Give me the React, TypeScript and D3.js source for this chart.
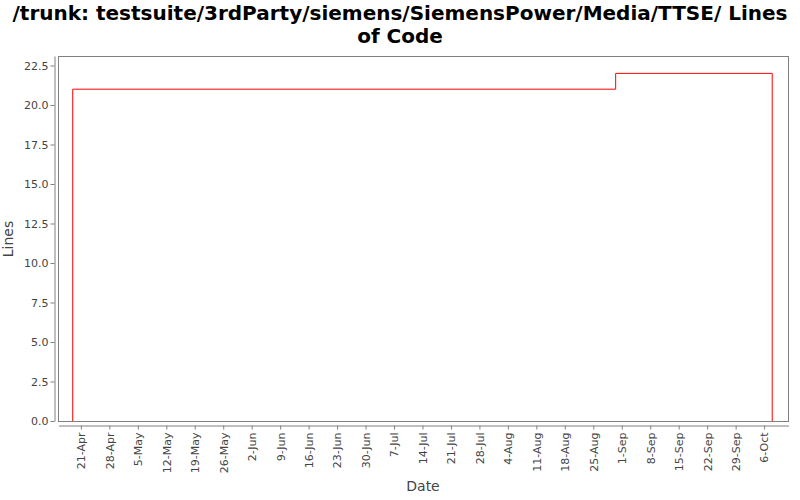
import React, { useEffect, useRef } from 'react';
import * as d3 from 'd3';

// step series: Lines of Code over time
const dates = ['2008-04-19', '2008-04-19', '2008-08-30T12:00', '2008-10-08', '2008-10-08'];
const values = [0, 21, 22, 22, 0];
const yTicks = [0, 2.5, 5, 7.5, 10, 12.5, 15, 17.5, 20, 22.5];

const W = 800;
const H = 500;
const plot = { left: 58.5, right: 788.5, top: 56.5, bottom: 421.5 };
const font = '"DejaVu Sans", sans-serif';

function AxisBottom({ scale, y }: { scale: d3.ScaleTime<number, number>; y: number }) {
  const ref = useRef<SVGGElement>(null);
  useEffect(() => {
    if (!ref.current) return;
    const g = d3.select(ref.current);
    g.call(
      d3.axisBottom(scale)
        .ticks(d3.timeMonday.every(1)!)
        .tickFormat((d) => d3.timeFormat('%-d-%b')(d as Date))
        .tickSize(4)
        .tickSizeOuter(0)
    );
    g.select('.domain').attr('stroke', '#808080');
    g.selectAll('.tick line').attr('stroke', '#808080');
    g.selectAll('.tick text')
      .attr('fill', '#444')
      .attr('font-size', 11)
      .attr('font-family', font)
      .attr('text-anchor', 'end')
      .attr('transform', 'rotate(-90)')
      .attr('x', -7)
      .attr('y', 0)
      .attr('dy', '0.35em');
  }, [scale]);
  return <g ref={ref} transform={`translate(0,${y})`} />;
}

function AxisLeft({ scale, x }: { scale: d3.ScaleLinear<number, number>; x: number }) {
  const ref = useRef<SVGGElement>(null);
  useEffect(() => {
    if (!ref.current) return;
    const g = d3.select(ref.current);
    g.call(
      d3.axisLeft(scale)
        .tickValues(yTicks)
        .tickFormat(d3.format('.1f'))
        .tickSize(4)
        .tickSizeOuter(0)
    );
    g.select('.domain').attr('stroke', '#808080');
    g.selectAll('.tick line').attr('stroke', '#808080');
    g.selectAll('.tick text')
      .attr('fill', '#444')
      .attr('font-size', 11)
      .attr('font-family', font)
      .attr('x', -6);
  }, [scale]);
  return <g ref={ref} transform={`translate(${x},0)`} />;
}

const App = () => {
  const parse = (s: string) => new Date(s.length > 10 ? s : s + 'T00:00');
  const data = dates.map((d, i) => ({ date: parse(d), value: values[i] }));

  const x = d3.scaleTime()
    .domain([new Date(2008, 3, 15, 12), new Date(2008, 9, 12, 0)])
    .range([plot.left, plot.right]);

  const y = d3.scaleLinear()
    .domain([0, 23.1])
    .range([421, 56]);

  const line = d3.line<{ date: Date; value: number }>()
    .x((d) => x(d.date))
    .y((d) => y(d.value))
    .curve(d3.curveStepAfter);

  return (
    <svg width={W} height={H} style={{ position: 'absolute', left: 0, top: 0, background: '#fff' }}>
      <text x={400} y={20} textAnchor="middle" fontFamily={font} fontWeight="bold" fontSize={20} fill="#000">
        /trunk: testsuite/3rdParty/siemens/SiemensPower/Media/TTSE/ Lines
      </text>
      <text x={400} y={43} textAnchor="middle" fontFamily={font} fontWeight="bold" fontSize={20} fill="#000">
        of Code
      </text>

      <rect
        x={plot.left}
        y={plot.top}
        width={plot.right - plot.left}
        height={plot.bottom - plot.top}
        fill="#fff"
        stroke="#808080"
      />
      <path d={line(data) ?? ''} fill="none" stroke="#ff0000" strokeWidth={1} />

      <AxisLeft scale={y} x={54.5} />
      <AxisBottom scale={x} y={425.5} />

      <text
        transform="translate(13,239) rotate(-90)"
        textAnchor="middle"
        fontFamily={font}
        fontSize={14}
        fill="#444"
      >
        Lines
      </text>
      <text x={423} y={491} textAnchor="middle" fontFamily={font} fontSize={14} fill="#444">
        Date
      </text>
    </svg>
  );
};

export default App;
